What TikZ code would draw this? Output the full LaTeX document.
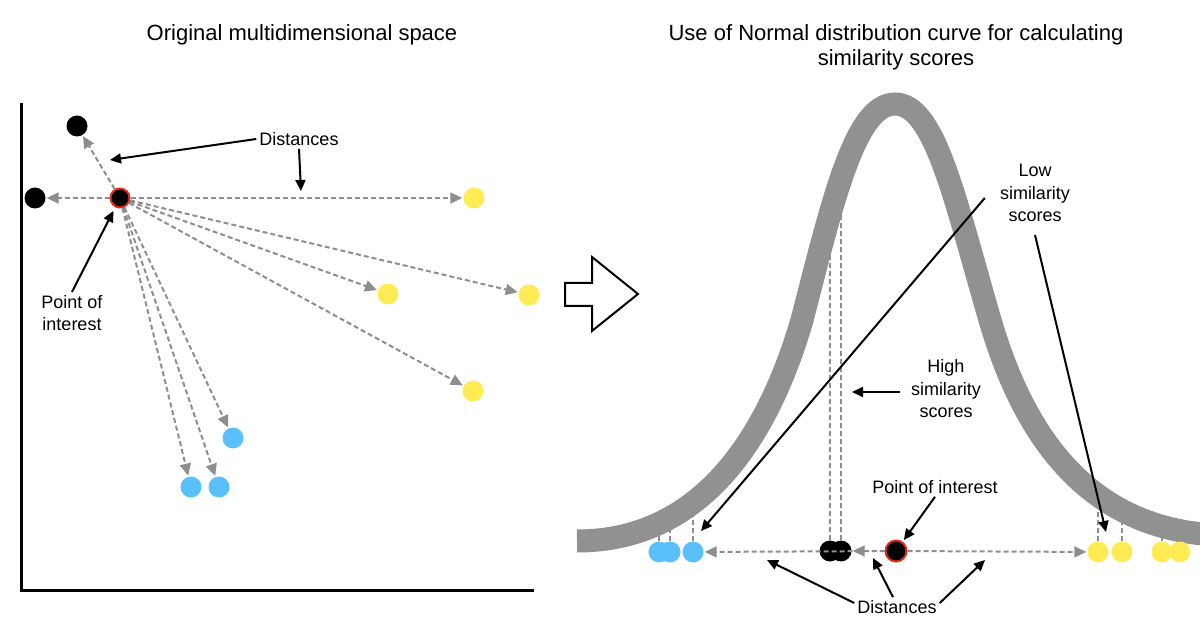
\documentclass[tikz,border=0pt]{standalone}
\usepackage{fontspec}
\setmainfont{Liberation Sans}
\usepackage{xcolor}
\usetikzlibrary{arrows.meta, backgrounds}
\definecolor{dist-grey}{RGB}{142,142,142}
\definecolor{curve-grey}{RGB}{145,145,145}
\definecolor{pt-blue}{RGB}{90,192,252}
\definecolor{pt-yellow}{RGB}{255,236,85}
\definecolor{poi-red}{RGB}{232,40,25}
\tikzset{
    dot/.style = {circle, inner sep=0pt, minimum size=21pt, fill=#1},
    dot/.default = black,
    poi/.style = {circle, inner sep=0pt, minimum size=19pt, fill=black, draw=poi-red, line width=2pt},
    dist/.style = {draw=dist-grey, line width=2pt, dash pattern=on 5pt off 3pt,
        -{Triangle[length=12pt,width=11pt]}, shorten >=1pt},
    tick/.style = {draw=dist-grey, line width=2pt, dash pattern=on 5pt off 3pt},
    callout/.style = {draw=black, line width=2pt, -{Triangle[length=11pt,width=10pt]}},
    lbl/.style = {align=center, inner sep=3pt, font=\fontsize{18}{22.5}\selectfont},
    title/.style = {align=center, inner sep=0pt, font=\fontsize{22}{25}\selectfont},
    bell/.style = {draw=curve-grey, line width=23pt},
    axis/.style = {draw=black, line width=3pt}
}

\begin{document}
\begin{tikzpicture}[x=1pt,y=-1pt]
\useasboundingbox (0,0) rectangle (1200,628);

\node[title] (ttl1) at (302,35) {Original multidimensional space};
\node[title] (ttl2) at (896,47) {Use of Normal distribution curve for calculating\\similarity scores};

\draw[axis] (21,103) -- (21,590) -- (534,590);
\draw[line width=2pt] (565,283) -- (592,283) -- (592,257) -- (638,294)
    -- (592,331) -- (592,306) -- (565,306) -- cycle;

\node[dot] (k1) at (77,126) {};
\node[dot] (k2) at (35,198) {};
\node[poi] (poi1) at (120,198) {};
\node[dot=pt-yellow] (y1) at (474,198) {};
\node[dot=pt-yellow] (y2) at (388,294) {};
\node[dot=pt-yellow] (y3) at (529,295) {};
\node[dot=pt-yellow] (y4) at (473,391) {};
\node[dot=pt-blue] (b1) at (233,438) {};
\node[dot=pt-blue] (b2) at (191,487) {};
\node[dot=pt-blue] (b3) at (219,487) {};

\foreach \p in {k1,k2,y1,y2,y3,y4,b1,b2,b3}
    \draw[dist] (poi1) -- (\p);

\node[lbl] (dst1) at (299,139) {Distances};
\coordinate (d1a) at (110,160);
\coordinate (d1b) at (301,191);
\draw[callout] (dst1.west) -- (d1a);
\draw[callout] (dst1.south) -- (d1b);

\node[lbl] (poil1) at (72,313) {Point of\\interest};
\draw[callout, shorten >=4pt] (poil1.north) -- (poi1);

\node[dot=pt-blue] (rb1) at (659,552) {};
\node[dot=pt-blue] (rb2) at (670,552) {};
\node[dot=pt-blue] (rb3) at (693,552) {};
\node[dot] (rk1) at (830,551) {};
\node[dot] (rk2) at (841,551) {};
\node[poi, minimum size=21pt] (poi2) at (896,551) {};
\node[dot=pt-yellow] (ry1) at (1098,552) {};
\node[dot=pt-yellow] (ry2) at (1122,552) {};
\node[dot=pt-yellow] (ry3) at (1162,552) {};
\node[dot=pt-yellow] (ry4) at (1180,552) {};

\begin{pgfonlayer}{background}
\foreach \p/\h in {rb1/22, rb2/31, rb3/45, rk1/350, rk2/370, ry1/52, ry2/40, ry3/27, ry4/27}
    \draw[tick] (\p) -- ++(0,-\h);
\draw[bell] (577,541) .. controls (700,541) and (767,440) .. (802,320)
    .. controls (833,200) and (855,104) .. (895,104)
    .. controls (935,104) and (955,200) .. (990,320)
    .. controls (1025,440) and (1090,528) .. (1215,535);
\end{pgfonlayer}

\foreach \p in {rk2,rb3,ry1}
    \draw[dist] (poi2) -- (\p);

\node[lbl] (poil2) at (935,487) {Point of interest};
\draw[callout, shorten >=2pt] (poil2.south) -- (poi2);

\node[lbl] (dst2) at (897,607) {Distances};
\coordinate (d2a) at (767,560);
\coordinate (d2b) at (873,558);
\coordinate (d2c) at (985,560);
\draw[callout] ([yshift=4pt]dst2.west) -- (d2a);
\draw[callout] ([xshift=-4pt]dst2.north) -- (d2b);
\draw[callout] ([yshift=4pt]dst2.east) -- (d2c);

\node[lbl] (highl) at (946,389) {High\\similarity\\scores};
\coordinate (hi) at (852,392);
\draw[callout] ([xshift=-8pt,yshift=-3pt]highl.west) -- (hi);

\node[lbl] (lowl) at (1035,193) {Low\\similarity\\scores};
\coordinate (lo-b) at (701,531);
\coordinate (lo-y) at (1106,532);
\draw[callout] ([xshift=-12pt,yshift=-5pt]lowl.west) -- (lo-b);
\draw[callout] ([yshift=-10pt]lowl.south) -- (lo-y);
\end{tikzpicture}
\end{document}
